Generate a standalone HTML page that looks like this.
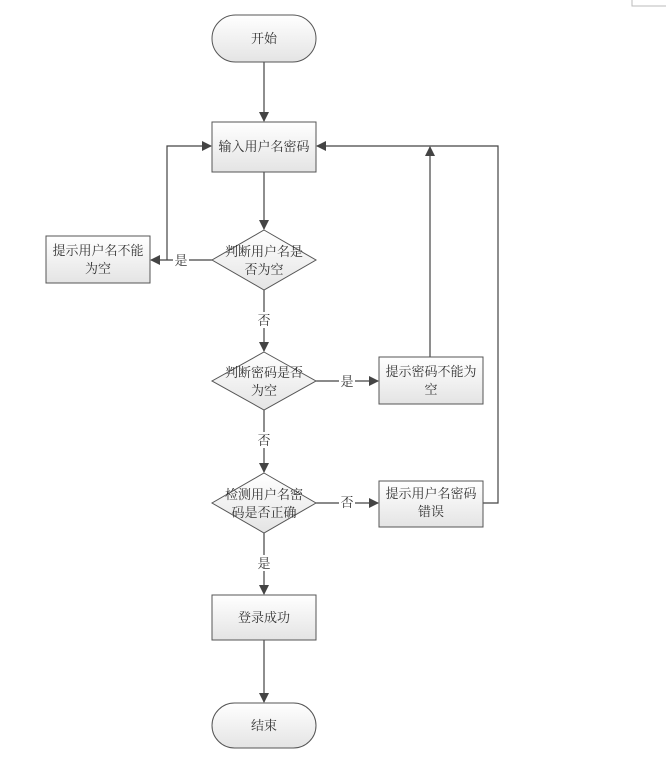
<!DOCTYPE html>
<html><head><meta charset="utf-8"><style>
html,body{margin:0;padding:0;background:#fff;}
svg text{font-family:"Liberation Serif","Noto Serif CJK SC","Noto Sans CJK SC",serif;font-size:13px;fill:#333;text-anchor:middle;}
</style></head><body>
<svg width="666" height="753" viewBox="0 0 666 753" xmlns="http://www.w3.org/2000/svg">
<defs>
<linearGradient id="g" x1="0" y1="0" x2="0" y2="1"><stop offset="0" stop-color="#ffffff"/><stop offset="1" stop-color="#e4e4e4"/></linearGradient>
<marker id="a" markerWidth="10" markerHeight="10" refX="9" refY="5" orient="auto" markerUnits="userSpaceOnUse"><path d="M0,0 L10,5 L0,10 z" fill="#444"/></marker>
</defs>
<rect x="632" y="-1" width="40" height="7" fill="none" stroke="#bbb"/>
<g stroke="#444" stroke-width="1.2" fill="none">
<line x1="264" y1="62" x2="264" y2="121" marker-end="url(#a)"/>
<line x1="264" y1="172" x2="264" y2="229" marker-end="url(#a)"/>
<line x1="212" y1="260" x2="151" y2="260" marker-end="url(#a)"/>
<polyline points="167,260 167,146 211,146" marker-end="url(#a)"/>
<line x1="264" y1="290" x2="264" y2="351" marker-end="url(#a)"/>
<line x1="316" y1="381" x2="378" y2="381" marker-end="url(#a)"/>
<line x1="430" y1="357" x2="430" y2="147" marker-end="url(#a)"/>
<line x1="264" y1="410" x2="264" y2="472" marker-end="url(#a)"/>
<line x1="316" y1="503" x2="378" y2="503" marker-end="url(#a)"/>
<polyline points="483,503 498,503 498,146 317,146" marker-end="url(#a)"/>
<line x1="264" y1="533" x2="264" y2="594" marker-end="url(#a)"/>
<line x1="264" y1="640" x2="264" y2="702" marker-end="url(#a)"/>
</g>
<g fill="#fff" stroke="none">
<rect x="256" y="312" width="16" height="16"/><rect x="256" y="432" width="16" height="16"/><rect x="256" y="555" width="16" height="16"/>
<rect x="173" y="252" width="16" height="16"/><rect x="339" y="373" width="16" height="16"/><rect x="339" y="495" width="16" height="16"/>
</g>
<g fill="url(#g)" stroke="#555" stroke-width="1">
<rect x="212" y="15" width="104" height="47" rx="23.5"/>
<rect x="212" y="122" width="104" height="50"/>
<polygon points="264,230 316,260 264,290 212,260"/>
<rect x="46" y="236" width="104" height="47"/>
<polygon points="264,352 316,381 264,410 212,381"/>
<rect x="379" y="357" width="104" height="47"/>
<polygon points="264,473 316,503 264,533 212,503"/>
<rect x="379" y="481" width="104" height="46"/>
<rect x="212" y="595" width="104" height="45"/>
<rect x="212" y="703" width="104" height="45" rx="22.5"/>
</g>
<text x="264" y="43">开始</text>
<text x="264" y="151">输入用户名密码</text>
<text x="264" y="256">判断用户名是</text><text x="264" y="274">否为空</text>
<text x="98" y="255">提示用户名不能</text><text x="98" y="273">为空</text>
<text x="264" y="377">判断密码是否</text><text x="264" y="395">为空</text>
<text x="431" y="376">提示密码不能为</text><text x="431" y="394">空</text>
<text x="264" y="499">检测用户名密</text><text x="264" y="517">码是否正确</text>
<text x="431" y="498">提示用户名密码</text><text x="431" y="516">错误</text>
<text x="264" y="622">登录成功</text>
<text x="264" y="730">结束</text>
<text x="264" y="325">否</text><text x="264" y="445">否</text><text x="264" y="568">是</text>
<text x="181" y="265">是</text><text x="347" y="386">是</text><text x="347" y="507">否</text>
</svg>
</body></html>
